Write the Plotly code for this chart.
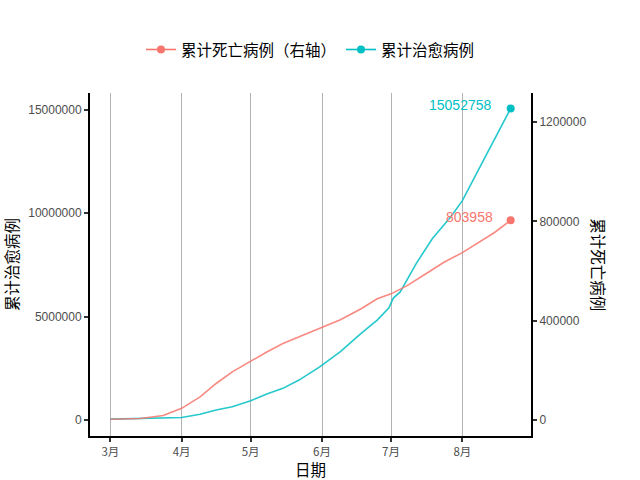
import plotly.graph_objects as go

# Cumulative deaths (right axis)
death_dates = ["2020-03-01", "2020-03-14", "2020-03-24", "2020-04-01", "2020-04-09",
               "2020-04-16", "2020-04-23", "2020-05-01", "2020-05-08", "2020-05-15",
               "2020-05-22", "2020-05-31", "2020-06-09", "2020-06-18", "2020-06-25",
               "2020-07-01", "2020-07-08", "2020-07-16", "2020-07-24", "2020-08-01",
               "2020-08-08", "2020-08-15", "2020-08-22"]
death_vals = [3000, 5800, 18000, 47000, 93000,
              147000, 194000, 237000, 274000, 308000,
              334000, 370000, 404000, 448000, 488000,
              508000, 541000, 588000, 635000, 674000,
              715000, 755000, 803958]

# Cumulative cured (left axis)
cured_dates = ["2020-03-01", "2020-03-14", "2020-03-24", "2020-04-01", "2020-04-09",
               "2020-04-16", "2020-04-23", "2020-05-01", "2020-05-08", "2020-05-15",
               "2020-05-22", "2020-05-31", "2020-06-09", "2020-06-18", "2020-06-25",
               "2020-06-30", "2020-07-02", "2020-07-05", "2020-07-12", "2020-07-19",
               "2020-07-27", "2020-08-01", "2020-08-06", "2020-08-09", "2020-08-13",
               "2020-08-18", "2020-08-22"]
cured_vals = [40000, 70000, 100000, 120000, 275000,
              483000, 642000, 932000, 1255000, 1530000,
              1930000, 2570000, 3300000, 4190000, 4830000,
              5410000, 5890000, 6190000, 7570000, 8770000,
              9820000, 10600000, 11660000, 12300000, 13140000,
              14200000, 15052758]

x_tick_vals = ["2020-03-01", "2020-04-01", "2020-05-01", "2020-06-01", "2020-07-01", "2020-08-01"]
x_tick_text = ["3月", "4月", "5月", "6月", "7月", "8月"]
left_ticks = [0, 5000000, 10000000, 15000000]
right_ticks = [0, 400000, 800000, 1200000]

RED = "#F8766D"
CYAN = "#00BFC4"
RATIO = 12.0
CJK = "Noto Sans CJK SC"
LAT = "Liberation Sans"
TITLE_SIZE = 15.5

fig = go.Figure()
fig.add_trace(go.Scatter(x=death_dates, y=death_vals, mode="lines", yaxis="y2",
                         line=dict(color=RED, width=1.6), opacity=0.85, showlegend=False))
fig.add_trace(go.Scatter(x=cured_dates, y=cured_vals, mode="lines", yaxis="y",
                         line=dict(color=CYAN, width=1.6), opacity=0.85, showlegend=False))
fig.add_trace(go.Scatter(x=[death_dates[-1]], y=[death_vals[-1]], mode="lines+markers", yaxis="y2",
                         name="累计死亡病例（右轴）", line=dict(color=RED, width=1.6),
                         marker=dict(color=RED, size=8)))
fig.add_trace(go.Scatter(x=[cured_dates[-1]], y=[cured_vals[-1]], mode="lines+markers", yaxis="y",
                         name="累计治愈病例", line=dict(color=CYAN, width=1.6),
                         marker=dict(color=CYAN, size=8)))

fig.add_annotation(x=cured_dates[-1], y=cured_vals[-1], yref="y", text=str(cured_vals[-1]),
                   showarrow=False, xanchor="right", xshift=-17, yshift=3,
                   font=dict(family=LAT, size=14, color=CYAN))
fig.add_annotation(x=death_dates[-1], y=death_vals[-1], yref="y2", text=str(death_vals[-1]),
                   showarrow=False, xanchor="right", xshift=-16, yshift=3,
                   font=dict(family=LAT, size=14, color=RED))

lo, hi = -773000, 15800000
fig.update_layout(
    width=640, height=480,
    margin=dict(l=90, r=109, t=93, b=44),
    paper_bgcolor="white", plot_bgcolor="white",
    font=dict(family=CJK, color="black"),
    xaxis=dict(type="date", range=["2020-02-21 04:00", "2020-08-30 20:00"],
               tickvals=x_tick_vals, ticktext=x_tick_text, automargin=False,
               tickfont=dict(family=CJK, size=11.5, color="#4D4D4D"),
               showgrid=True, gridcolor="#B3B3B3", gridwidth=1,
               showline=True, linecolor="black", linewidth=2,
               ticks="outside", ticklen=4, tickcolor="#333333", tickwidth=1.5,
               zeroline=False,
               title=dict(text="日期", font=dict(family=CJK, size=TITLE_SIZE, color="black"), standoff=5)),
    yaxis=dict(range=[lo, hi], tickvals=left_ticks, ticktext=[str(v) for v in left_ticks],
               tickfont=dict(family=LAT, size=12, color="#4D4D4D"), automargin=False,
               showgrid=False, zeroline=False,
               showline=True, linecolor="black", linewidth=2,
               ticks="outside", ticklen=4, tickcolor="#333333", tickwidth=1.5),
    yaxis2=dict(range=[lo / RATIO, hi / RATIO], overlaying="y", side="right",
                tickvals=right_ticks, ticktext=[str(v) for v in right_ticks],
                tickfont=dict(family=LAT, size=12, color="#4D4D4D"), automargin=False,
                showgrid=False, zeroline=False,
                showline=True, linecolor="black", linewidth=2,
                ticks="outside", ticklen=4, tickcolor="#333333", tickwidth=1.5),
    legend=dict(orientation="h", x=0.5, xanchor="center", y=0.896, yanchor="middle",
                yref="container", font=dict(family=CJK, size=TITLE_SIZE, color="black"),
                bgcolor="rgba(0,0,0,0)"),
)

fig.add_annotation(text="累计治愈病例", xref="paper", yref="paper", x=-0.18, y=0.5,
                   textangle=-90, showarrow=False, xanchor="center", yanchor="middle",
                   font=dict(family=CJK, size=TITLE_SIZE, color="black"))
fig.add_annotation(text="累计死亡病例", xref="paper", yref="paper", x=1.155, y=0.5,
                   textangle=90, showarrow=False, xanchor="center", yanchor="middle",
                   font=dict(family=CJK, size=TITLE_SIZE, color="black"))

fig.write_html("out.html")
